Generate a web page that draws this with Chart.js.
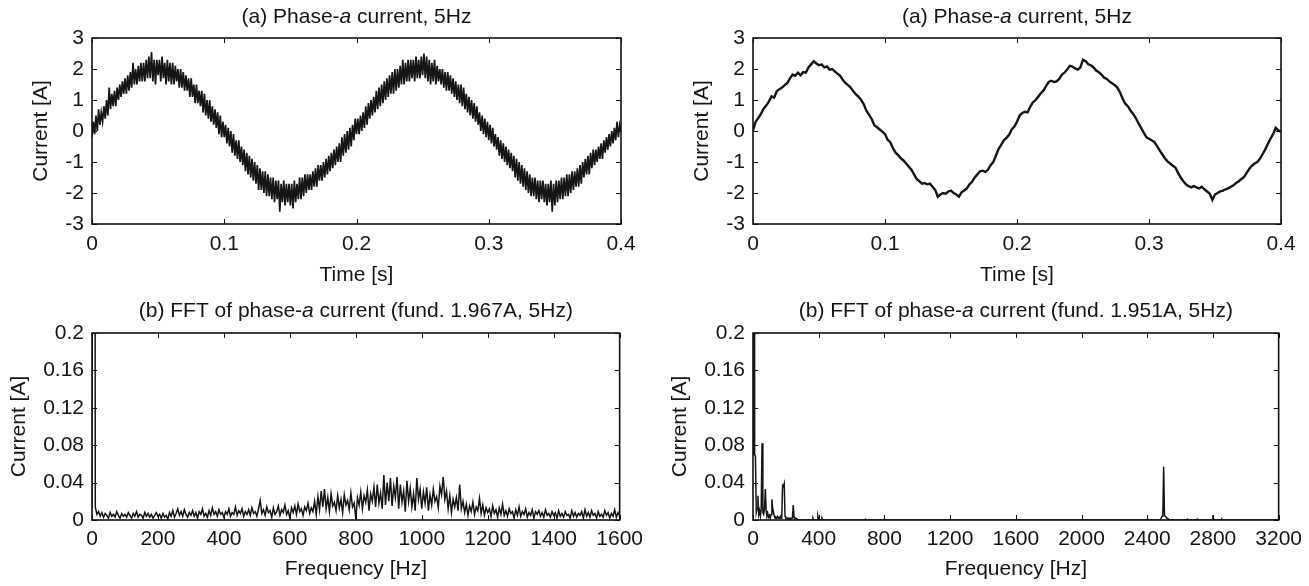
<!DOCTYPE html>
<html><head><meta charset="utf-8">
<script src="https://cdn.jsdelivr.net/npm/chart.js@4/dist/chart.umd.min.js"></script>
<style>
body{margin:0;background:#fff;width:1309px;height:586px;overflow:hidden;position:relative}
.p{position:absolute}
canvas{display:block}
</style>
</head><body>
<div class="p" style="left:0;top:0"><canvas id="c1" width="650" height="290"></canvas></div>
<div class="p" style="left:650px;top:0"><canvas id="c2" width="659" height="290"></canvas></div>
<div class="p" style="left:0;top:290px"><canvas id="c3" width="650" height="296"></canvas></div>
<div class="p" style="left:650px;top:290px"><canvas id="c4" width="659" height="296"></canvas></div>
<script>
// ---------- DATA ----------
// (a) left: phase-a current, sampled every 1 ms, 0..0.4 s
const timeStepLeft = 0.001;
const currentLeft = [
-0.2,0.3,-0.1,0.5,0.0,0.7,0.2,0.6,0.3,0.8,
0.4,1.0,0.5,1.4,0.7,1.2,0.8,1.3,0.8,1.4,
1.0,1.5,1.1,1.6,1.2,1.7,1.2,1.8,1.3,1.9,
1.4,2.2,1.5,2.0,1.5,2.1,1.6,2.2,1.6,2.2,
1.6,2.3,1.7,2.4,1.7,2.55,1.6,2.3,1.5,2.3,
1.8,
2.3,1.6,2.4,1.7,2.2,1.5,2.3,1.6,2.2,1.5,
2.2,1.5,2.1,1.6,2.0,1.4,2.0,1.4,1.9,1.3,
1.8,1.3,1.7,1.1,1.7,1.1,1.5,0.9,1.5,0.9,
1.3,0.8,1.3,0.6,1.2,0.5,1.0,0.4,1.0,0.3,
0.8,0.2,0.7,0.1,0.6,-0.1,0.5,-0.2,0.3,-0.2,
0.2,-0.4,0.1,-0.5,0.0,-0.7,-0.1,-0.8,-0.3,-0.9,
-0.3,-1.0,-0.5,-1.1,-0.6,-1.3,-0.7,-1.4,-0.8,-1.5,
-0.9,-1.6,-1.0,-1.7,-1.1,-1.9,-1.2,-1.9,-1.3,-2.0,
-1.3,-2.1,-1.4,-2.1,-1.5,-2.2,-1.5,-2.3,-1.6,-2.2,
-1.6,-2.6,-1.7,-2.3,-1.6,-2.4,-1.7,-2.3,-1.7,-2.4,
-1.7,-2.5,-1.6,-2.3,-1.7,-2.2,-1.5,-2.2,-1.5,-2.1,
-1.4,-2.0,-1.4,-1.9,-1.4,-1.9,-1.3,-1.8,-1.2,-1.8,
-1.1,-1.6,-1.1,-1.6,-1.0,-1.5,-0.9,-1.4,-0.8,-1.3,
-0.7,-1.2,-0.6,-1.1,-0.5,-1.0,-0.4,-1.0,-0.2,-0.8,
-0.1,-0.7,0.0,-0.6,0.1,-0.5,0.2,-0.3,0.4,-0.1,
0.4,-0.1,0.5,0.0,0.6,0.1,0.8,0.2,0.9,0.4,
1.0,0.5,1.1,0.6,1.3,0.7,1.4,0.8,1.5,0.9,
1.6,1.0,1.7,1.1,1.8,1.2,1.9,1.2,2.0,1.3,
2.0,1.4,2.1,1.5,2.3,1.5,2.2,1.6,2.3,1.6,
2.3,1.7,2.3,1.6,2.4,1.7,2.3,1.7,2.4,1.8,
2.5,1.7,2.4,1.6,2.3,1.5,2.2,1.6,2.3,1.5,
2.1,1.6,2.0,1.5,2.0,1.4,1.9,1.3,1.9,1.3,
1.8,1.2,1.7,1.1,1.6,1.0,1.5,0.9,1.5,0.8,
1.4,0.7,1.2,0.6,1.1,0.5,1.0,0.4,0.9,0.3,
0.8,0.2,0.6,0.0,0.5,-0.1,0.4,-0.2,0.3,-0.3,
0.2,-0.4,0.1,-0.5,-0.1,-0.6,-0.2,-0.8,-0.3,-0.9,
-0.4,-1.0,-0.5,-1.1,-0.6,-1.2,-0.7,-1.3,-0.8,-1.5,
-0.9,-1.6,-1.0,-1.7,-1.1,-1.8,-1.2,-1.9,-1.3,-2.0,
-1.4,-2.1,-1.5,-2.1,-1.5,-2.2,-1.6,-2.3,-1.6,-2.2,
-1.6,-2.3,-1.7,-2.4,-1.7,-2.3,-1.6,-2.6,-1.7,-2.4,
-1.6,-2.3,-1.6,-2.2,-1.5,-2.2,-1.5,-2.1,-1.4,-2.1,
-1.4,-2.0,-1.3,-1.9,-1.3,-1.8,-1.2,-1.8,-1.1,-1.7,
-1.0,-1.5,-0.9,-1.4,-0.8,-1.4,-0.7,-1.2,-0.6,-1.1,
-0.6,-1.0,-0.5,-0.9,-0.4,-0.9,-0.3,-0.7,-0.2,-0.6,
-0.1,-0.5,0.0,-0.4,0.1,-0.3,0.3,-0.2,0.2,0.0
];

// (a) right: phase-a current, sampled every 2 ms, 0..0.4 s
const timeStepRight = 0.002;
const currentRight = [
0.02,0.30,0.42,0.55,0.72,0.82,0.95,1.12,1.08,1.28,
1.35,1.40,1.48,1.55,1.70,1.82,1.78,1.88,1.80,1.90,
1.88,2.05,2.15,2.25,2.18,2.12,2.15,2.05,2.08,1.98,
2.00,1.92,1.85,1.78,1.65,1.55,1.48,1.40,1.28,1.18,
1.10,1.00,0.85,0.65,0.52,0.38,0.18,0.12,0.05,-0.02,
-0.10,-0.28,-0.36,-0.55,-0.70,-0.78,-0.88,-0.95,-1.05,-1.15,
-1.25,-1.40,-1.55,-1.62,-1.70,-1.68,-1.72,-1.70,-1.80,-1.90,
-2.12,-2.05,-2.00,-2.02,-1.95,-1.92,-2.00,-2.05,-2.12,-1.98,
-1.92,-1.85,-1.72,-1.64,-1.50,-1.40,-1.30,-1.28,-1.32,-1.25,
-1.10,-1.00,-0.80,-0.58,-0.45,-0.30,-0.22,-0.12,0.05,0.14,
0.30,0.50,0.58,0.62,0.60,0.78,0.92,1.00,1.10,1.22,
1.30,1.45,1.58,1.62,1.58,1.60,1.68,1.82,1.88,1.98,
2.10,2.08,2.02,1.98,2.05,2.30,2.25,2.15,2.12,2.05,
1.95,1.90,1.82,1.72,1.68,1.60,1.54,1.48,1.40,1.25,
1.05,0.88,0.80,0.66,0.55,0.42,0.25,0.10,-0.05,-0.20,
-0.25,-0.30,-0.35,-0.48,-0.62,-0.75,-0.88,-0.98,-1.05,-1.12,
-1.18,-1.35,-1.50,-1.62,-1.72,-1.78,-1.82,-1.78,-1.82,-1.85,
-1.80,-1.88,-1.95,-2.02,-2.22,-2.05,-2.00,-1.95,-1.92,-1.88,
-1.85,-1.80,-1.75,-1.68,-1.62,-1.55,-1.48,-1.35,-1.22,-1.12,
-1.05,-1.00,-0.90,-0.75,-0.60,-0.42,-0.25,-0.10,0.10,0.02,
-0.02
];

// (b) left: FFT magnitude, 5 Hz bins, 0..1600 Hz (fund. 1.967 A at 5 Hz)
const freqStepLeft = 5;
const fftLeft = [
0.012,1.967,0.014,0.006,0.009,0.004,0.008,0.003,0.007,0.005,0.002,0.008,0.004,0.006,0.003,0.009,0.005,0.002,0.007,0.004,
0.006,0.003,0.008,0.005,0.002,0.007,0.004,0.009,0.003,0.006,0.005,0.002,0.008,0.004,0.007,0.003,0.006,0.002,0.005,0.008,
0.004,0.006,0.002,0.007,0.003,0.005,0.001,0.008,0.004,0.010,0.003,0.007,0.012,0.005,0.009,0.004,0.011,0.006,0.003,0.008,
0.005,0.010,0.004,0.008,0.002,0.009,0.006,0.012,0.004,0.007,0.003,0.010,0.005,0.013,0.006,0.009,0.004,0.011,0.006,0.008,
0.003,0.009,0.006,0.012,0.004,0.008,0.006,0.014,0.005,0.010,0.007,0.012,0.004,0.009,0.006,0.011,0.005,0.013,0.007,0.009,
0.004,0.012,0.021,0.007,0.011,0.005,0.014,0.008,0.010,0.003,0.013,0.006,0.009,0.015,0.005,0.011,0.008,0.016,0.006,0.010,
0.002,0.013,0.008,0.015,0.006,0.017,0.009,0.012,0.005,0.014,0.010,0.018,0.007,0.013,0.009,0.020,0.006,0.025,0.011,0.031,
0.014,0.033,0.012,0.024,0.009,0.028,0.015,0.019,0.010,0.026,0.013,0.022,0.008,0.027,0.016,0.021,0.011,0.029,0.014,0.018,
0.001,0.024,0.016,0.030,0.012,0.026,0.019,0.032,0.010,0.028,0.020,0.035,0.014,0.038,0.018,0.029,0.012,0.048,0.016,0.040,
0.020,0.045,0.015,0.036,0.024,0.046,0.012,0.038,0.019,0.031,0.009,0.042,0.020,0.034,0.014,0.028,0.010,0.045,0.022,0.033,
0.012,0.030,0.018,0.035,0.010,0.027,0.016,0.033,0.020,0.025,0.013,0.036,0.027,0.046,0.022,0.031,0.012,0.026,0.008,0.022,
0.014,0.024,0.010,0.038,0.012,0.020,0.008,0.017,0.005,0.015,0.009,0.019,0.006,0.014,0.010,0.023,0.007,0.016,0.005,0.013,
0.008,0.012,0.004,0.015,0.007,0.011,0.003,0.013,0.006,0.017,0.005,0.010,0.004,0.012,0.007,0.009,0.002,0.011,0.005,0.014,
0.004,0.009,0.006,0.012,0.003,0.008,0.005,0.011,0.002,0.009,0.006,0.010,0.004,0.008,0.003,0.011,0.005,0.007,0.003,0.009,
0.005,0.008,0.002,0.010,0.004,0.007,0.003,0.009,0.005,0.006,0.002,0.010,0.004,0.008,0.003,0.007,0.005,0.009,0.002,0.011,
0.004,0.008,0.003,0.010,0.005,0.007,0.002,0.009,0.004,0.006,0.003,0.010,0.005,0.008,0.002,0.007,0.004,0.011,0.003,0.008,
0.005
];

// (b) right: FFT magnitude (fund. 1.951 A at 5 Hz), frequency / amplitude pairs
const fftRightFreq = [
0,5,10,15,20,25,30,35,40,45,50,55,60,65,70,75,80,85,90,95,
100,105,110,115,120,125,130,135,140,145,150,155,160,165,170,175,180,185,190,195,
200,205,210,215,220,225,230,235,240,245,250,255,260,265,270,275,
300,360,365,370,390,395,400,415,420,425,680,685,690,
2480,2490,2495,2500,2505,2510,2515,2520,2530,2540,
2640,2645,2650,2700,2705,2710,2795,2800,2805,2850,2855,2860,3200
];
const fftRightAmp = [
0.070,1.951,0.070,0.068,0.008,0.012,0.026,0.006,0.010,0.004,0.012,0.082,0.008,0.006,0.012,0.033,0.010,0.004,0.007,0.003,
0.005,0.002,0.006,0.022,0.012,0.008,0.004,0.002,0.003,0.002,0.004,0.002,0.003,0.002,0.004,0.003,0.037,0.036,0.039,0.004,
0.002,0.001,0.002,0.001,0.002,0.001,0.002,0.001,0.002,0.016,0.003,0.001,0.002,0.001,0.001,0.000,
0.000,0.000,0.002,0.000,0.000,0.004,0.000,0.000,0.002,0.000,0.000,0.001,0.000,
0.000,0.004,0.006,0.057,0.005,0.004,0.003,0.002,0.001,0.000,
0.000,0.001,0.000,0.000,0.001,0.000,0.000,0.005,0.000,0.000,0.001,0.000,0.000
];

// tick definitions
const timeTicks = {min:0, max:0.4, step:0.1};
const currentTicks = {min:-3, max:3, step:1};
const fftYTicks = {min:0, max:0.2, step:0.04};
const freqTicksLeft = {min:0, max:1600, step:200};
const freqTicksRight = {min:0, max:3200, step:400};

const titleA = [["(a) Phase-",false],["a",true],[" current, 5Hz",false]];
const titleBLeft = [["(b) FFT of phase-",false],["a",true],[" current (fund. 1.967A, 5Hz)",false]];
const titleBRight = [["(b) FFT of phase-",false],["a",true],[" current (fund. 1.951A, 5Hz)",false]];

// ---------- RENDERING ----------
const FONT = "'Liberation Sans', Arial, Helvetica, sans-serif";
const FS = 21;
const INK = '#151515';

const boxTicks = {
  id: 'boxTicks',
  afterDatasetsDraw(chart, args, opts) {
    const {ctx, chartArea: a, scales: {x, y}} = chart;
    ctx.save();
    ctx.strokeStyle = '#111';
    ctx.lineWidth = 1;
    const L = 5;
    ctx.beginPath();
    x.ticks.forEach(t => {
      const px = Math.round(x.getPixelForValue(t.value)) + 0.5;
      ctx.moveTo(px, a.bottom); ctx.lineTo(px, a.bottom - L);
      ctx.moveTo(px, a.top); ctx.lineTo(px, a.top + L);
    });
    y.ticks.forEach(t => {
      const py = Math.round(y.getPixelForValue(t.value)) + 0.5;
      ctx.moveTo(a.left, py); ctx.lineTo(a.left + L, py);
      ctx.moveTo(a.right, py); ctx.lineTo(a.right - L, py);
    });
    ctx.stroke();
    ctx.lineWidth = 1.6;
    ctx.strokeRect(a.left, a.top, a.right - a.left, a.bottom - a.top);
    // title with italic part
    if (opts && opts.parts) {
      ctx.fillStyle = INK;
      ctx.textBaseline = 'middle';
      let total = 0;
      const widths = opts.parts.map(([s, it]) => {
        ctx.font = (it ? 'italic ' : '') + FS + 'px ' + FONT;
        const w = ctx.measureText(s).width; total += w; return w;
      });
      let cx = (a.left + a.right) / 2 - total / 2;
      opts.parts.forEach(([s, it], i) => {
        ctx.font = (it ? 'italic ' : '') + FS + 'px ' + FONT;
        ctx.textAlign = 'left';
        ctx.fillText(s, cx, opts.y);
        cx += widths[i];
      });
    }
    ctx.restore();
  }
};

const fmt = v => String(+Number(v).toFixed(2));

function makeChart(id, points, o) {
  return new Chart(document.getElementById(id), {
    type: 'line',
    data: { datasets: [{
      data: points,
      borderColor: INK,
      borderWidth: o.lw,
      pointRadius: 0,
      tension: 0,
      fill: false
    }]},
    options: {
      responsive: false,
      animation: false,
      devicePixelRatio: 1,
      parsing: false,
      normalized: true,
      layout: { padding: { top: o.padTop, right: o.padRight, left: 0, bottom: 0 } },
      plugins: {
        legend: { display: false },
        tooltip: { enabled: false },
        title: { display: false },
        boxTicks: { parts: o.title, y: o.titleY }
      },
      scales: {
        x: {
          type: 'linear', min: o.xt.min, max: o.xt.max,
          grid: { display: false, drawTicks: false },
          border: { display: false },
          ticks: { stepSize: o.xt.step, autoSkip: false, maxRotation: 0, padding: o.xTickPad,
                   color: INK, font: { family: FONT, size: FS }, callback: fmt },
          title: { display: true, text: o.xTitle, color: INK, font: { family: FONT, size: FS },
                   padding: { top: 0, bottom: o.xTitlePad } },
          afterFit(s) { s.height = o.xHeight; }
        },
        y: {
          type: 'linear', min: o.yt.min, max: o.yt.max,
          grid: { display: false, drawTicks: false },
          border: { display: false },
          ticks: { stepSize: o.yt.step, autoSkip: false, padding: 8,
                   color: INK, font: { family: FONT, size: FS }, callback: fmt },
          title: { display: true, text: 'Current [A]', color: INK, font: { family: FONT, size: FS },
                   padding: { top: o.yTitlePad, bottom: 0 } },
          afterFit(s) { s.width = o.yWidth; }
        }
      }
    },
    plugins: [boxTicks]
  });
}

const ptsTL = currentLeft.map((v, i) => ({x: i * timeStepLeft, y: v}));
const ptsTR = currentRight.map((v, i) => ({x: i * timeStepRight, y: v}));
const ptsBL = fftLeft.map((v, i) => ({x: i * freqStepLeft, y: v}));
const ptsBR = fftRightFreq.map((f, i) => ({x: f, y: fftRightAmp[i]}));

makeChart('c1', ptsTL, { lw: 1.7, padTop: 38, padRight: 29, title: titleA, titleY: 17,
  xt: timeTicks, yt: currentTicks, xTitle: 'Time [s]', xTickPad: 8, xTitlePad: 2, xHeight: 66,
  yTitlePad: 29, yWidth: 92 });
makeChart('c2', ptsTR, { lw: 2.4, padTop: 38, padRight: 28, title: titleA, titleY: 17,
  xt: timeTicks, yt: currentTicks, xTitle: 'Time [s]', xTickPad: 8, xTitlePad: 2, xHeight: 66,
  yTitlePad: 40, yWidth: 103 });
makeChart('c3', ptsBL, { lw: 1.5, padTop: 43, padRight: 29, title: titleBLeft, titleY: 21,
  xt: freqTicksLeft, yt: fftYTicks, xTitle: 'Frequency [Hz]', xTickPad: 7, xTitlePad: 4, xHeight: 66,
  yTitlePad: 7, yWidth: 92 });
makeChart('c4', ptsBR, { lw: 1.5, padTop: 43, padRight: 28, title: titleBRight, titleY: 21,
  xt: freqTicksRight, yt: fftYTicks, xTitle: 'Frequency [Hz]', xTickPad: 7, xTitlePad: 4, xHeight: 66,
  yTitlePad: 18, yWidth: 103 });
</script>
</body></html>
